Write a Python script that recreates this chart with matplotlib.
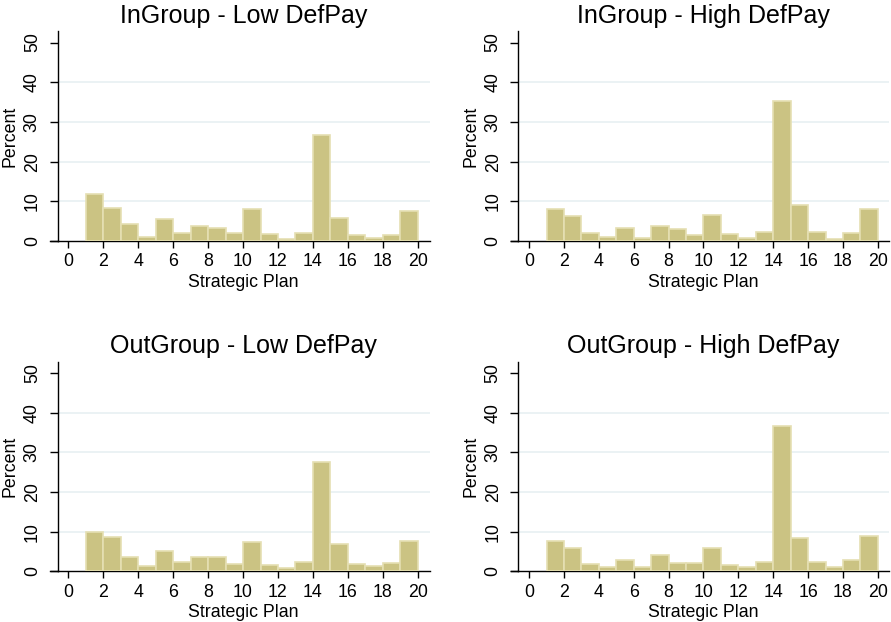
import matplotlib
matplotlib.use("Agg")
import matplotlib.pyplot as plt
import numpy as np

plt.rcParams['font.family'] = ['Liberation Sans', 'DejaVu Sans']

plans = list(range(1, 20))  # bar left edges (1..19), each bar width 1
titles = ["InGroup - Low DefPay", "InGroup - High DefPay",
          "OutGroup - Low DefPay", "OutGroup - High DefPay"]

in_low = [11.9, 8.2, 4.3, 0.9, 5.5, 1.9, 3.9, 3.2, 1.9, 8.0,
          1.7, 0.5, 1.9, 26.6, 5.7, 1.4, 0.7, 1.5, 7.6]
in_high = [8.0, 6.3, 1.9, 0.9, 3.4, 0.7, 3.7, 2.9, 1.4, 6.5,
           1.7, 0.8, 2.3, 35.3, 9.0, 2.3, 0.5, 1.9, 8.0]
out_low = [9.8, 8.6, 3.5, 1.3, 5.0, 2.3, 3.5, 3.5, 1.8, 7.3,
           1.5, 0.8, 2.3, 27.7, 6.8, 1.8, 1.3, 2.0, 7.6]
out_high = [7.6, 5.8, 1.8, 1.0, 2.8, 1.0, 4.0, 2.0, 2.0, 5.8,
            1.5, 1.0, 2.3, 36.6, 8.3, 2.3, 1.0, 2.8, 8.8]

series = [in_low, in_high, out_low, out_high]
xticks = list(range(0, 21, 2))
yticks = [0, 10, 20, 30, 40, 50]

W, H = 891, 622
fig = plt.figure(figsize=(W / 100, H / 100), dpi=100)

# axes rectangles in pixel coords (left, top, right, bottom)
rects = [(57.5, 31, 430, 241), (518.3, 31, 889, 241),
         (57.5, 361.7, 430, 571.3), (518.3, 361.7, 889, 571.3)]

fill = '#cbc383'
edge = '#e5dfb3'
grid = '#e6eff1'

for rect, vals, title in zip(rects, series, titles):
    l, t, r, b = rect
    ax = fig.add_axes([l / W, 1 - b / H, (r - l) / W, (b - t) / H])
    ax.bar(plans, vals, width=1.0, align='edge', color=fill,
           edgecolor=edge, linewidth=1.2, zorder=3)
    ax.set_xlim(-0.62, 20.7 if l < 400 else 20.64)
    ax.set_ylim(0, 52.9)
    ax.set_xticks(xticks)
    ax.set_yticks(yticks)
    for yv in [10, 20, 30, 40]:
        ax.axhline(yv, color=grid, lw=1.1, zorder=1)
    for s in ['top', 'right']:
        ax.spines[s].set_visible(False)
    ax.spines['left'].set_linewidth(1.0)
    ax.spines['bottom'].set_linewidth(1.0)
    # extend x axis line to the left by the y tick length
    ax.plot([-7.5 / (r - l), 0], [0, 0], transform=ax.transAxes,
            color='black', lw=1.0, clip_on=False, zorder=5)
    ax.tick_params(axis='y', direction='out', length=5.5, width=1.0,
                   labelsize=12.8, pad=6.5, labelrotation=90)
    ax.tick_params(axis='x', direction='out', length=5, width=1.0,
                   labelsize=12.8, pad=4)
    for lab in ax.get_yticklabels():
        lab.set_va('center')
    ax.set_xlabel('Strategic Plan', fontsize=12.8, labelpad=2.5)
    ax.set_ylabel('Percent', fontsize=12.8, labelpad=4)
    ax.set_title(title, fontsize=18, pad=6)

fig.savefig('out.png', dpi=100)
